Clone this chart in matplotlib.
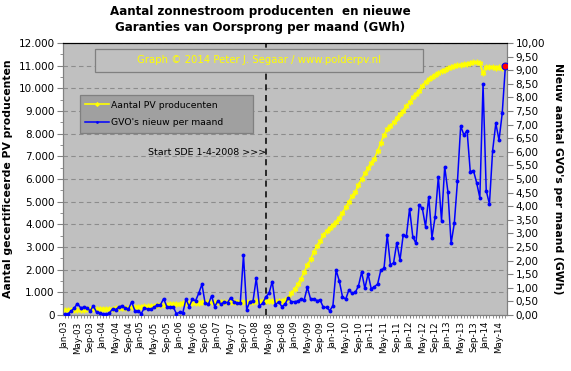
import numpy as np
import pandas as pd
import matplotlib
matplotlib.use('Agg')
import matplotlib.pyplot as plt
from matplotlib.ticker import FuncFormatter, MultipleLocator
from matplotlib.patches import Rectangle

# month categories Jan-03 .. Jul-14
months = pd.date_range('2003-01-01', periods=139, freq='MS').strftime('%b-%y').tolist()

# number of certified PV producers (left axis)
pv_producers = [
    220, 225, 230, 230, 235, 240, 240, 245, 245, 250, 250, 255,
    260, 265, 270, 280, 290, 300, 310, 320, 330, 340, 350, 360,
    370, 380, 390, 400, 410, 420, 430, 440, 455, 470, 480, 490,
    500, 510, 520, 530, 540, 545, 550, 555, 560, 565, 570, 570,
    575, 575, 580, 580, 585, 585, 585, 590, 590, 590, 595, 595,
    600, 600, 600, 605, 605, 610, 610, 615,
    620, 650, 760, 950, 1150, 1350, 1600, 1900, 2200, 2450, 2800, 3050,
    3250, 3550, 3700, 3850, 3980, 4120, 4300, 4500, 4750, 5000, 5250, 5420,
    5750, 6000, 6250, 6480, 6700, 6900, 7250, 7600, 7950, 8200, 8350, 8500,
    8700, 8850, 9000, 9200, 9400, 9600, 9750, 9900, 10100, 10300, 10400, 10500,
    10600, 10680, 10750, 10830, 10880, 10920, 10980, 11020, 11050, 11070, 11090, 11110,
    11140, 11150, 11100, 10660, 10930, 10960, 10940, 10900, 10950, 10880, 10980,
]

# new GVO's per month in GWh (right axis)
gvo_gwh = [
    0.02, 0.03, 0.14, 0.25, 0.42, 0.27, 0.28, 0.27, 0.15, 0.34, 0.10, 0.06,
    0.04, 0.02, 0.07, 0.22, 0.20, 0.30, 0.33, 0.26, 0.22, 0.48, 0.16, 0.15,
    0.05, 0.27, 0.21, 0.21, 0.28, 0.37, 0.37, 0.60, 0.31, 0.30, 0.30, 0.05,
    0.10, 0.08, 0.58, 0.31, 0.58, 0.52, 0.80, 1.13, 0.43, 0.39, 0.70, 0.31,
    0.52, 0.39, 0.49, 0.45, 0.64, 0.49, 0.45, 0.43, 2.20, 0.20, 0.49, 0.52,
    1.35, 0.33, 0.43, 0.67, 0.80, 1.23, 0.37, 0.49, 0.31, 0.39, 0.64, 0.49,
    0.49, 0.51, 0.59, 0.55, 1.02, 0.59, 0.59, 0.53, 0.55, 0.28, 0.28, 0.16,
    0.34, 1.65, 1.25, 0.67, 0.58, 0.92, 0.80, 0.83, 1.07, 1.58, 0.98, 1.51,
    0.96, 1.04, 1.14, 1.65, 1.72, 2.94, 1.84, 1.92, 2.66, 2.02, 2.94, 2.90,
    3.91, 2.88, 2.63, 4.04, 3.92, 3.25, 4.35, 2.84, 3.61, 5.08, 3.47, 5.45,
    4.53, 2.63, 3.37, 4.93, 6.95, 6.62, 6.78, 5.27, 5.31, 4.86, 4.31, 8.48,
    4.57, 4.08, 6.04, 7.05, 6.43, 7.41, 9.15,
]

sde_start = 'Apr-08'

plt.rcParams['font.family'] = 'DejaVu Sans'

x = np.arange(len(months))
sde_idx = months.index(sde_start)

fig = plt.figure(figsize=(5.71, 3.71), dpi=100, facecolor='white')
ax = fig.add_axes([63 / 571, 1 - 315 / 371, 444 / 571, 272 / 371])
ax2 = ax.twinx()
ax.set_facecolor('#C0C0C0')

# gridlines
ax.set_axisbelow(True)
ax.yaxis.grid(True, which='major', color='#8C8C8C', linestyle=(0, (4, 3)), linewidth=0.8)

# series
l1, = ax.plot(x, pv_producers, color='#FFFF00', linewidth=1.2, marker=(6, 2, 0),
              markersize=4.0, markeredgewidth=1.0, markeredgecolor='#FFFF00', zorder=3)
l2, = ax2.plot(x, gvo_gwh, color='#0000FF', linewidth=1.1, marker='o',
               markersize=2.8, markeredgewidth=0, zorder=4)
ax.plot(x[-1], pv_producers[-1], 'o', color='red', markersize=5, markeredgecolor='#FFFF00',
        markeredgewidth=0.8, zorder=5)
ax2.plot(x[-1], gvo_gwh[-1], 'o', color='red', markersize=5, markeredgecolor='#0000FF',
         markeredgewidth=0.8, zorder=5)

# SDE start line
ax.axvline(sde_idx, color='black', linestyle=(0, (4, 3)), linewidth=1.1, zorder=2)
ax.text(sde_idx, 7150, 'Start SDE 1-4-2008 >>>', ha='right', va='center', fontsize=6.8)

# axes ranges and ticks
ax.set_xlim(-0.5, len(months) - 0.5)
ax.set_ylim(0, 12000)
ax2.set_ylim(0, 10)

ax.yaxis.set_major_locator(MultipleLocator(1000))
ax.yaxis.set_minor_locator(MultipleLocator(500))
ax.yaxis.set_major_formatter(FuncFormatter(lambda v, p: f'{int(v):,}'.replace(',', '.')))
ax2.yaxis.set_major_locator(MultipleLocator(0.5))
ax2.yaxis.set_major_formatter(FuncFormatter(lambda v, p: f'{v:.2f}'.replace('.', ',')))

ax.set_xticks(x[::4])
ax.set_xticklabels(months[::4], rotation=90, fontsize=6.3)
ax.set_xticks(x, minor=True)

ax.tick_params(axis='y', which='major', labelsize=7.5, length=4, color='#808080', pad=2)
ax.tick_params(axis='y', which='minor', length=2, color='#808080')
ax.tick_params(axis='x', which='both', length=2.5, color='#808080', pad=2)
ax2.tick_params(axis='y', labelsize=7.5, length=4, color='#808080', pad=2)

for a in (ax, ax2):
    for s in ('left', 'right', 'bottom'):
        a.spines[s].set_color('#808080')
    a.spines['top'].set_color('black')

ax.set_ylabel('Aantal gecertificeerde PV producenten', fontsize=7.8, fontweight='bold', labelpad=4)
ax2.set_ylabel("Nieuw aantal GVO's per maand (GWh)", fontsize=7.8, fontweight='bold',
               rotation=270, labelpad=13)

fig.text(260 / 571, 1 - 12 / 371, 'Aantal zonnestroom producenten  en nieuwe',
         ha='center', va='center', fontsize=8.6, fontweight='bold')
fig.text(260 / 571, 1 - 28 / 371, 'Garanties van Oorsprong per maand (GWh)',
         ha='center', va='center', fontsize=8.6, fontweight='bold')

# watermark box
ax.add_patch(Rectangle((0.072, 0.894), 0.739, 0.084, transform=ax.transAxes,
                       facecolor='#C0C0C0', edgecolor='#808080', linewidth=0.9, zorder=6))
ax.text(0.441, 0.936, 'Graph © 2014 Peter J. Segaar / www.polderpv.nl', transform=ax.transAxes,
        ha='center', va='center', color='#FFFF00', fontsize=7.3, zorder=7)

# legend
leg = ax.legend([l1, l2], ['Aantal PV producenten', "GVO's nieuw per maand"],
                loc='upper left', bbox_to_anchor=(0.027, 0.826, 0.412, 0.0), mode='expand',
                fontsize=6.7, frameon=True, fancybox=False, facecolor='#A0A0A0',
                edgecolor='#808080', framealpha=1, labelspacing=0.9, handlelength=2.6,
                handletextpad=0.2, borderpad=0.6, markerscale=0.7)
leg.get_frame().set_linewidth(0.9)
leg.set_zorder(8)

fig.savefig('out.png', dpi=100, facecolor='white')
